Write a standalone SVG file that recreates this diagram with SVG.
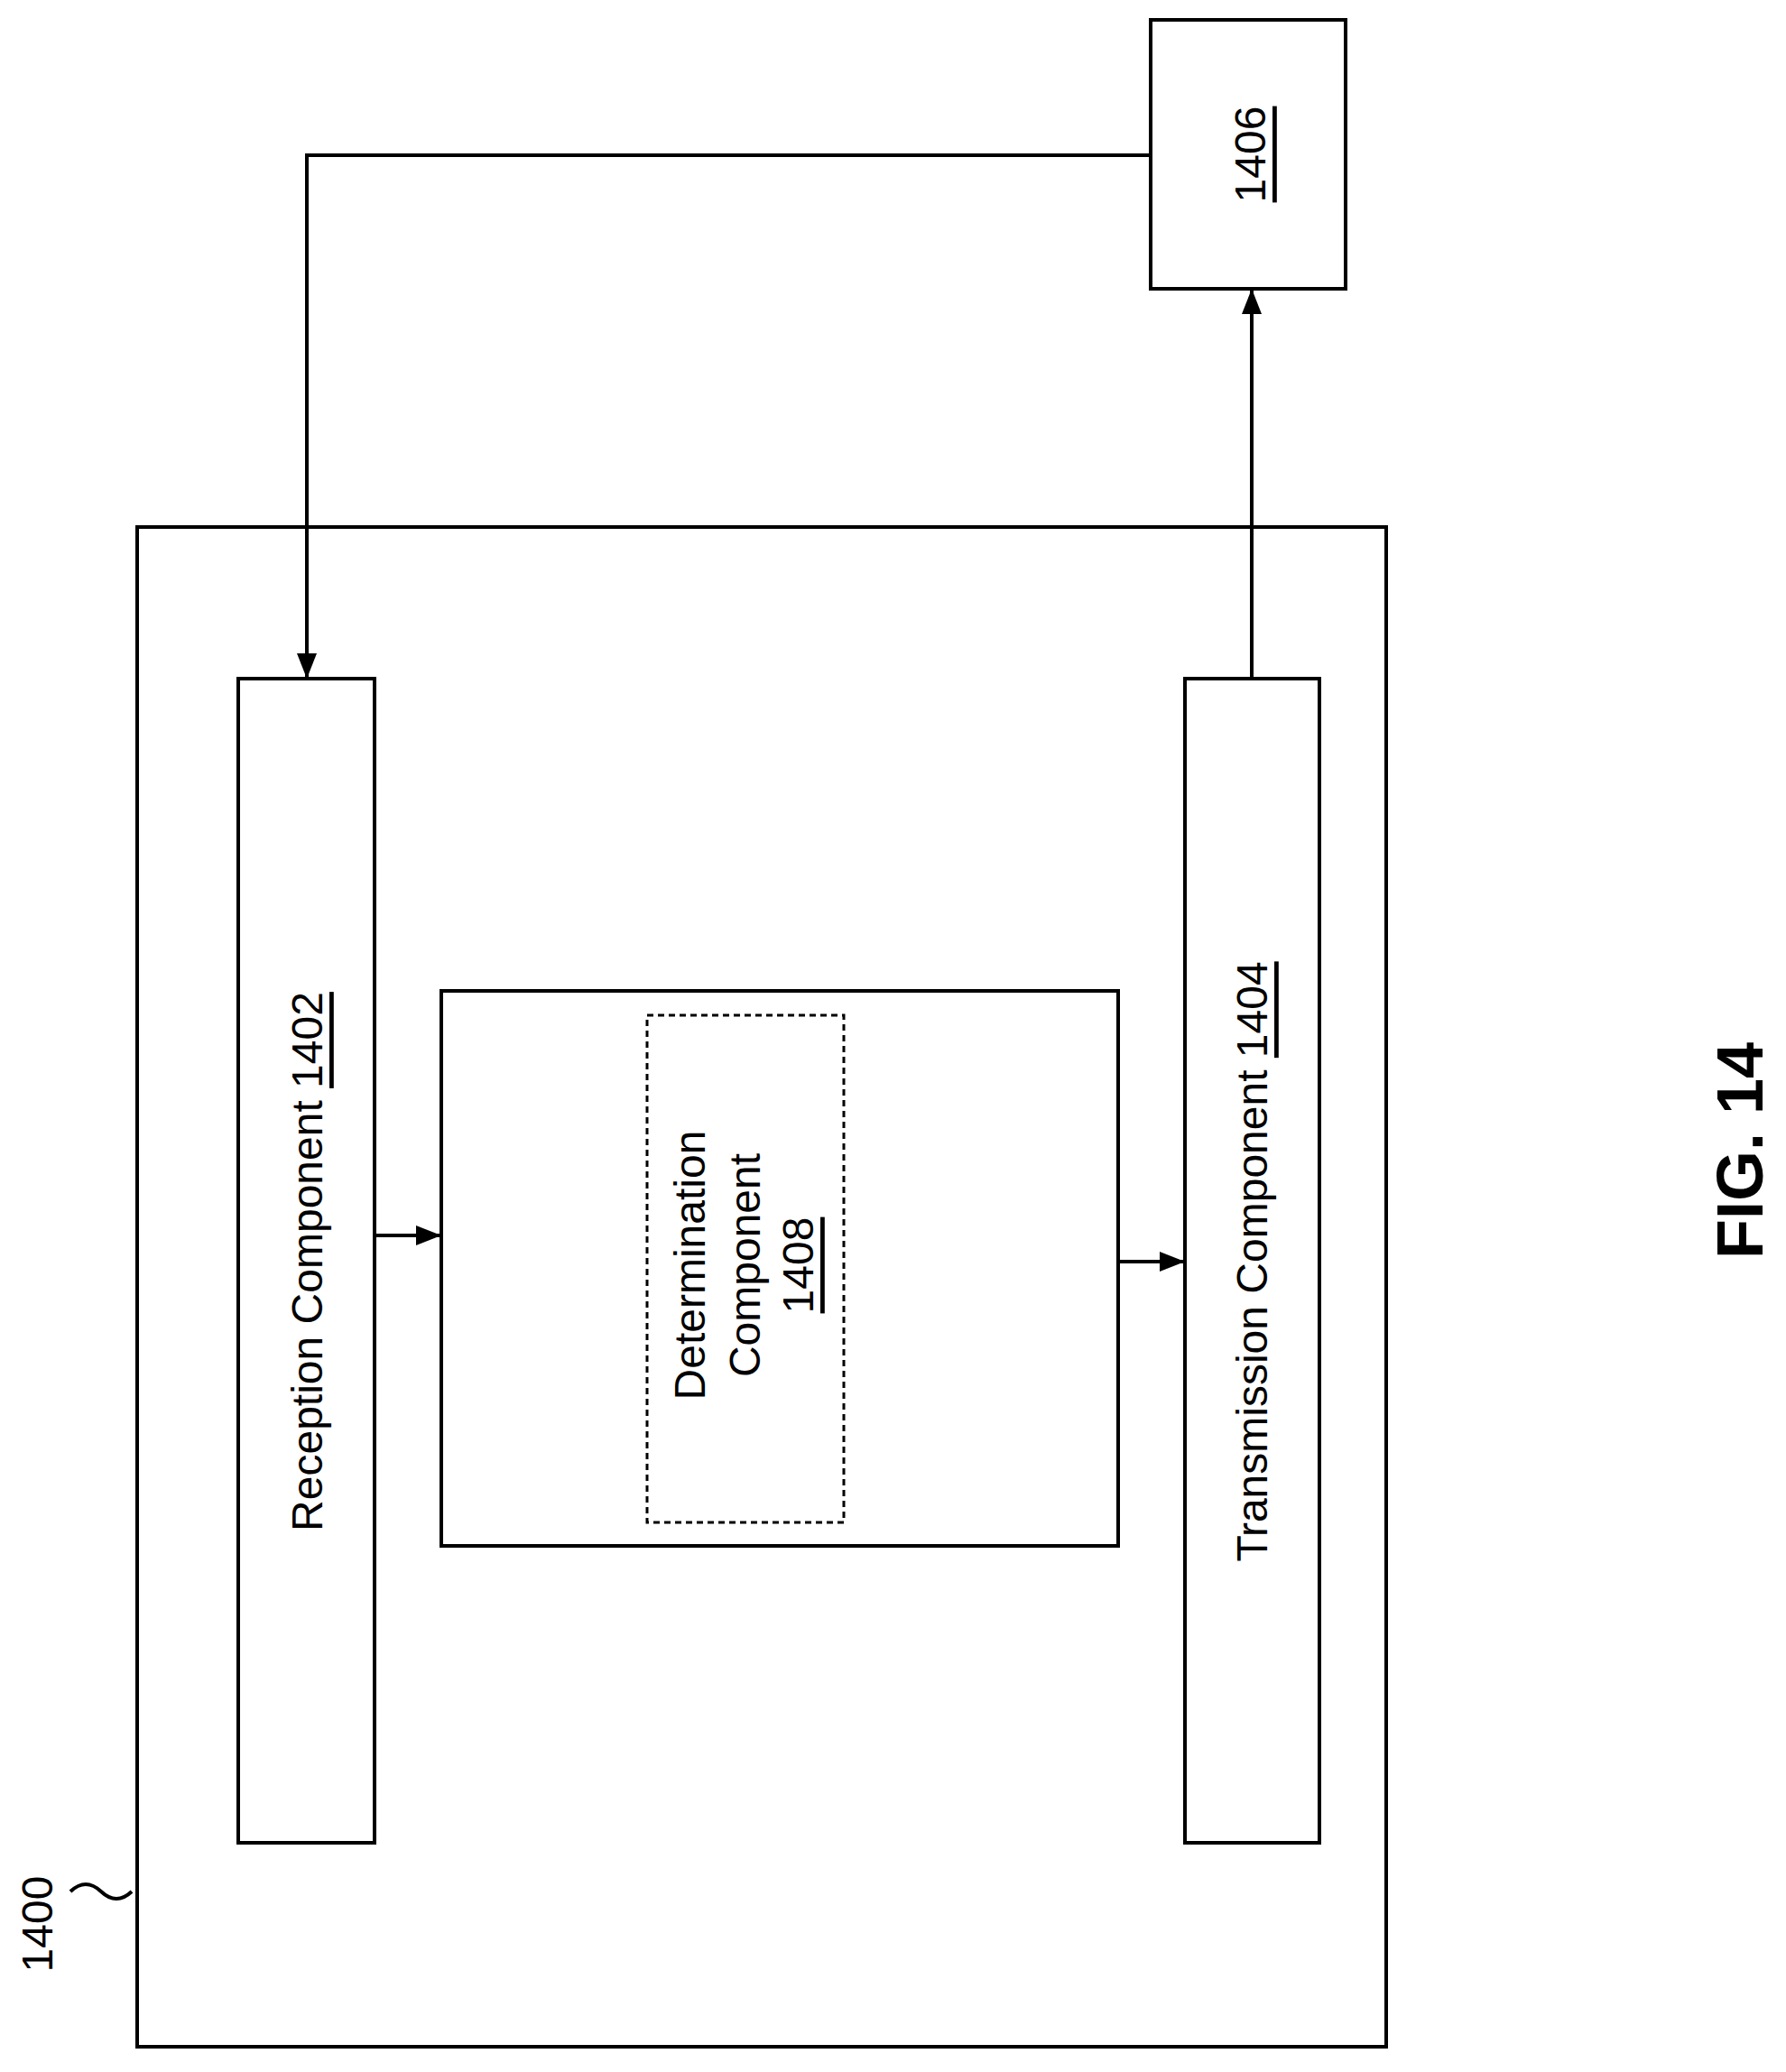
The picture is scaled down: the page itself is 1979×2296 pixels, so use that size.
<svg xmlns="http://www.w3.org/2000/svg" width="1979" height="2296" viewBox="0 0 1979 2296">
<style>
.b{fill:#fff;stroke:#000;stroke-width:4}
.c{fill:none;stroke:#000;stroke-width:4}
text{font-family:"Liberation Sans",Arial,sans-serif;font-size:48px;fill:#000}
.u{text-decoration:underline}
</style>
<defs>
<marker id="m" viewBox="-30 -15 30 30" refX="0" refY="0" markerWidth="30" markerHeight="30" markerUnits="userSpaceOnUse" orient="auto"><path d="M-28,-11L0,0L-28,11z"/></marker></defs>
<g id="n1400"><rect class="b" x="152" y="584" width="1384" height="1684"/>
<text transform="translate(41,2132) rotate(-90)" text-anchor="middle" dominant-baseline="central">1400</text>
<path class="c" d="M78,2096 q17,-16 34,0 t34,0"/></g>
<g id="n1406"><rect class="b" x="1275" y="22" width="216" height="298"/>
<text transform="translate(1385,171) rotate(-90)" text-anchor="middle" dominant-baseline="central"><tspan class="u">1406</tspan></text></g>
<g id="n1402"><rect class="b" x="264" y="752" width="151" height="1290"/>
<text transform="translate(340,1398) rotate(-90)" text-anchor="middle" dominant-baseline="central">Reception Component <tspan class="u">1402</tspan></text></g>
<g id="n1404"><rect class="b" x="1313" y="752" width="149" height="1290"/>
<text transform="translate(1387,1398) rotate(-90)" text-anchor="middle" dominant-baseline="central">Transmission Component <tspan class="u">1404</tspan></text></g>
<g id="nmid"><rect class="b" x="489" y="1098" width="750" height="615"/></g>
<g id="n1408"><rect x="717" y="1125" width="218" height="562" fill="none" stroke="#000" stroke-width="3" stroke-dasharray="7,5"/>
<text transform="translate(764,1402) rotate(-90)" text-anchor="middle" dominant-baseline="central">Determination</text>
<text transform="translate(825,1402) rotate(-90)" text-anchor="middle" dominant-baseline="central">Component</text>
<text transform="translate(884,1402) rotate(-90)" text-anchor="middle" dominant-baseline="central"><tspan class="u">1408</tspan></text></g>
<g id="connectors">
<path class="c" d="M1275,172H340V752" marker-end="url(#m)"/>
<path class="c" d="M1387,752V320" marker-end="url(#m)"/>
<path class="c" d="M415,1369H489" marker-end="url(#m)"/>
<path class="c" d="M1239,1398H1313" marker-end="url(#m)"/>
</g>
<text transform="translate(1928,1275) rotate(-90)" text-anchor="middle" dominant-baseline="central" style="font-size:72px;font-weight:bold">FIG. 14</text>
</svg>
